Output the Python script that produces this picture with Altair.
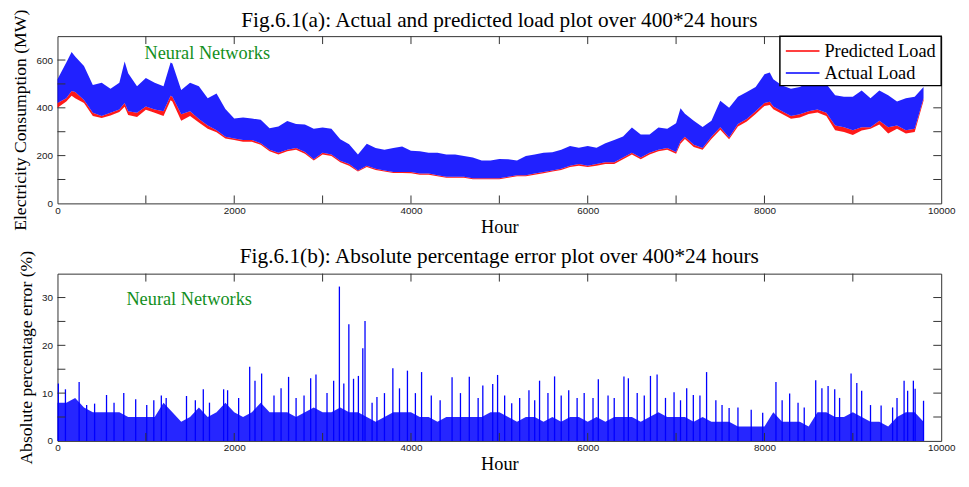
import altair as alt
import pandas as pd

# ---------------- data ----------------
hours = [0, 100, 160, 200, 300, 400, 500, 600, 700, 760, 800, 900,
         1000, 1100, 1200, 1280, 1300, 1400, 1500, 1600, 1700, 1800, 1900,
         2000, 2100, 2200, 2300, 2400, 2500, 2600, 2700, 2800, 2900,
         3000, 3100, 3200, 3300, 3400, 3500, 3600, 3700, 3800, 3900,
         4000, 4100, 4200, 4300, 4400, 4500, 4600, 4700, 4800, 4900,
         5000, 5100, 5200, 5300, 5400, 5500, 5600, 5700, 5800, 5900,
         6000, 6100, 6200, 6300, 6400, 6500, 6600, 6700, 6800, 6900,
         7000, 7050, 7100, 7200, 7300, 7400, 7500, 7600, 7700, 7800, 7900,
         8000, 8060, 8100, 8200, 8300, 8400, 8500, 8600, 8700, 8800, 8900,
         9000, 9100, 9200, 9300, 9400, 9500, 9600, 9700, 9800]

actual_hi = [520, 590, 634, 615, 575, 495, 505, 480, 505, 594, 545, 490,
             525, 505, 490, 590, 585, 475, 505, 490, 440, 460, 395,
             355, 360, 355, 350, 315, 322, 345, 332, 330, 312,
             318, 312, 268, 248, 205, 250, 232, 225, 232, 238,
             220, 218, 212, 212, 205, 205, 198, 192, 180, 180,
             186, 185, 180, 198, 205, 212, 214, 225, 240, 233,
             240, 233, 252, 265, 280, 318, 288, 288, 318, 312,
             335, 398, 375, 346, 320, 346, 430, 400, 446, 466, 487,
             540, 548, 520, 493, 480, 487, 507, 505, 500, 453, 446,
             446, 473, 440, 473, 453, 426, 440, 446, 487]

actual_lo = [420, 440, 470, 466, 433, 379, 366, 379, 393, 420, 386, 379,
             406, 393, 386, 450, 446, 373, 386, 353, 326, 306, 279,
             272, 265, 265, 252, 225, 212, 225, 232, 215, 185,
             212, 205, 178, 165, 138, 158, 145, 138, 131, 131,
             131, 125, 125, 118, 111, 111, 111, 105, 105, 105,
             105, 111, 118, 118, 125, 131, 138, 145, 158, 165,
             158, 165, 172, 172, 192, 212, 192, 212, 225, 232,
             215, 260, 279, 245, 232, 279, 319, 276, 332, 353, 386,
             420, 425, 406, 386, 366, 373, 386, 393, 379, 326, 319,
             306, 319, 319, 346, 319, 326, 306, 312, 440]

pred_lo = [400, 426, 450, 440, 420, 366, 357, 368, 383, 405, 370, 362,
           392, 379, 366, 432, 426, 346, 366, 339, 312, 298, 272,
           265, 258, 258, 245, 218, 205, 218, 225, 208, 180,
           205, 198, 172, 158, 133, 152, 140, 133, 127, 127,
           126, 120, 120, 114, 107, 107, 107, 101, 101, 101,
           101, 107, 114, 114, 120, 126, 133, 140, 152, 158,
           152, 158, 165, 165, 185, 205, 185, 205, 218, 225,
           208, 250, 270, 236, 224, 270, 308, 268, 322, 343, 374,
           408, 412, 394, 374, 354, 360, 374, 380, 366, 306, 299,
           286, 305, 312, 330, 292, 312, 292, 299, 430]

err_hours = list(range(0, 9801, 100))
err_hi = [8, 8, 9, 7, 6, 6, 6, 6, 5, 5,
          5, 5, 8, 6, 4, 5, 7, 5, 6, 8,
          6, 5, 6, 8, 6, 6, 6, 5, 6, 7,
          6, 6, 7, 6, 6, 5, 4, 5, 6, 6,
          6, 5, 5, 4, 5, 5, 5, 5, 5, 6,
          6, 5, 4, 5, 5, 4, 5, 4, 5, 5,
          4, 5, 4, 5, 5, 5, 4, 5, 6, 5,
          5, 5, 4, 5, 4, 4, 4, 3, 3, 3,
          3, 6, 4, 4, 4, 3, 6, 6, 5, 5,
          6, 5, 4, 4, 3, 5, 6, 6, 4]

spike_hours = [10, 90, 245, 330, 420, 555, 640, 750, 885, 1010, 1090, 1175, 1230,
               1460, 1560, 1650, 1720, 1880, 1925, 2050, 2175, 2235, 2310, 2450,
               2530, 2615, 2700, 2790, 2865, 2925, 3050, 3125, 3190, 3240, 3297,
               3350, 3405, 3455, 3480, 3560, 3615, 3700, 3795, 3870, 3960, 4050,
               4120, 4230, 4330, 4465, 4560, 4660, 4760, 4813, 4925, 4980, 5060,
               5140, 5230, 5335, 5400, 5455, 5550, 5625, 5700, 5785, 5880, 5960,
               6060, 6120, 6230, 6300, 6410, 6460, 6560, 6640, 6710, 6785, 6880,
               6977, 7050, 7120, 7195, 7270, 7345, 7450, 7520, 7600, 7700, 7850,
               7980, 8130, 8200, 8285, 8380, 8450, 8580, 8650, 8720, 8795, 8850,
               8980, 9045, 9100, 9200, 9320, 9450, 9500, 9580, 9620, 9685, 9705, 9800]
spike_vals = [12.0, 10.8, 12.3, 7.5, 7.8, 9.6, 8.0, 10.0, 8.7, 7.5, 8.5, 9.5, 9.0,
              9.4, 8.5, 10.8, 8.0, 10.8, 10.6, 9.0, 15.5, 12.6, 14.1, 9.5,
              11.0, 13.4, 9.0, 9.5, 13.1, 13.9, 10.0, 12.6, 32.3, 12.0, 24.4,
              13.0, 13.6, 19.4, 25.1, 8.0, 9.2, 10.0, 15.2, 11.0, 14.7, 10.0,
              14.4, 9.5, 8.5, 13.3, 10.0, 13.4, 9.0, 11.6, 11.9, 13.8, 9.5,
              7.9, 9.0, 10.6, 8.5, 12.6, 10.0, 13.5, 9.5, 10.6, 9.0, 10.0,
              9.0, 12.9, 9.5, 9.0, 13.5, 13.1, 10.0, 9.5, 13.6, 13.9, 9.0,
              10.2, 8.5, 11.0, 9.6, 9.5, 14.4, 8.5, 7.5, 6.9, 7.0, 6.5,
              5.9, 12.3, 8.5, 9.9, 8.0, 7.0, 12.7, 11.0, 11.5, 10.8, 9.0,
              14.1, 12.1, 10.5, 7.5, 7.4, 7.0, 9.0, 12.6, 10.5, 12.6, 10.9, 8.4]

x_ticks = [0, 1000, 2000, 3000, 4000, 5000, 6000, 7000, 8000, 9000, 10000]
load_ticks = [0, 100, 200, 300, 400, 500, 600, 700]
err_ticks = [0, 5, 10, 15, 20, 25, 30, 35]
series_names = ["Predicted Load", "Actual Load"]
series_colors = ["#ff0000", "#0000ff"]
titles = ["Fig.6.1(a): Actual and predicted load plot over 400*24 hours",
          "Fig.6.1(b): Absolute percentage error plot over 400*24 hours"]

# ---------------- styling ----------------
W, H = 893, 169
TICK = 8
BLUE = "#0000ff"
RED = "#ff0000"
GREEN = "#138f1d"
SERIF = "Liberation Serif"
SANS = "Liberation Sans"
XS = alt.Scale(domain=[0, 10000], nice=False)
YS_LOAD = alt.Scale(domain=[0, 700], nice=False)
YS_ERR = alt.Scale(domain=[0, 35], nice=False)
X_AX = alt.Axis(values=x_ticks, title="Hour", format="d", tickCount=10,
                labelOverlap=False, labelFlush=False)
Y1_AX = alt.Axis(values=load_ticks, title="Electricity Consumption (MW)", format="d",
                 tickCount=7, labelOverlap=False, labelFlush=False)
Y2_AX = alt.Axis(values=err_ticks, title="Absolute percentage error (%)", format="d",
                 tickCount=7, labelOverlap=False, labelFlush=False)


def xe(field):
    return alt.X(field, scale=XS, axis=X_AX)


def ye(field, ys, ax):
    return alt.Y(field, scale=ys, axis=ax)


def frame_ticks(yvals, ys, ax):
    xt = pd.DataFrame({"t": x_ticks[1:-1]})
    yt = pd.DataFrame({"v": yvals[1:-1]})
    c = "#333333"
    bottom = alt.Chart(xt).mark_rule(color=c, strokeWidth=1).encode(
        x=xe("t:Q"), y=alt.value(H), y2=alt.value(H - TICK))
    top = alt.Chart(xt).mark_rule(color=c, strokeWidth=1).encode(
        x=xe("t:Q"), y=alt.value(0), y2=alt.value(TICK))
    left = alt.Chart(yt).mark_rule(color=c, strokeWidth=1).encode(
        y=ye("v:Q", ys, ax), x=alt.value(0), x2=alt.value(TICK))
    right = alt.Chart(yt).mark_rule(color=c, strokeWidth=1).encode(
        y=ye("v:Q", ys, ax), x=alt.value(W - TICK), x2=alt.value(W))
    return [bottom, top, left, right]


def panel_title(text, dy):
    return alt.Chart(pd.DataFrame({"t": [text]})).mark_text(
        align="center", baseline="alphabetic", font=SERIF, fontSize=21.5, color="black").encode(
        x=alt.value(W / 2), y=alt.value(dy), text="t:N")


# ---------------- top panel ----------------
load_df = pd.DataFrame({"Hour": hours, "hi": actual_hi, "lo": actual_lo, "plo": pred_lo})

pred_area = alt.Chart(load_df).mark_area(color=RED, opacity=0.9).encode(
    x=xe("Hour:Q"), y=ye("plo:Q", YS_LOAD, Y1_AX), y2="lo:Q")
act_area = alt.Chart(load_df).mark_area(color=BLUE, opacity=0.87).encode(
    x=xe("Hour:Q"), y=ye("lo:Q", YS_LOAD, Y1_AX), y2="hi:Q")
nn_top = alt.Chart(pd.DataFrame({"h": [985], "v": [603], "t": ["Neural Networks"]})).mark_text(
    align="left", baseline="alphabetic", font=SERIF, fontSize=18.5, color=GREEN).encode(
    x=xe("h:Q"), y=ye("v:Q", YS_LOAD, Y1_AX), text="t:N")

# legend box (drawn inside the plot's top-right corner)
leg_df = pd.DataFrame({"name": series_names, "color": series_colors})
leg_box = alt.Chart(pd.DataFrame({"a": [0]})).mark_rect(
    fill="white", stroke="black", strokeWidth=1.5).encode(
    x=alt.value(W - 163), x2=alt.value(W), y=alt.value(0), y2=alt.value(50))
leg_items = []
for i, (nm, col) in enumerate(zip(series_names, series_colors)):
    row_y = 15 + 22.3 * i
    one = leg_df[leg_df["name"] == nm]
    leg_items.append(alt.Chart(one).mark_rule(color=col, strokeWidth=1.6).encode(
        x=alt.value(W - 157), x2=alt.value(W - 123), y=alt.value(row_y)))
    leg_items.append(alt.Chart(one).mark_text(
        align="left", baseline="middle", font=SERIF, fontSize=18.5, color="black").encode(
        x=alt.value(W - 118), y=alt.value(row_y), text="name:N"))

top_chart = alt.layer(pred_area, act_area, nn_top,
                      *frame_ticks(load_ticks, YS_LOAD, Y1_AX),
                      leg_box, *leg_items, panel_title(titles[0], -9)).properties(
    width=W, height=H)

# ---------------- bottom panel ----------------
err_df = pd.DataFrame({"Hour": err_hours, "hi": err_hi})
spk_df = pd.DataFrame({"Hour": spike_hours, "v": spike_vals, "z": [0] * len(spike_vals)})

err_area = alt.Chart(err_df).mark_area(color=BLUE, opacity=0.85).encode(
    x=xe("Hour:Q"), y=ye("hi:Q", YS_ERR, Y2_AX))
err_spikes = alt.Chart(spk_df).mark_rule(color=BLUE, strokeWidth=1.3).encode(
    x=xe("Hour:Q"), y=ye("z:Q", YS_ERR, Y2_AX), y2="v:Q")
nn_bot = alt.Chart(pd.DataFrame({"h": [780], "v": [28.5], "t": ["Neural Networks"]})).mark_text(
    align="left", baseline="alphabetic", font=SERIF, fontSize=18.5, color=GREEN).encode(
    x=xe("h:Q"), y=ye("v:Q", YS_ERR, Y2_AX), text="t:N")

bot_chart = alt.layer(err_area, err_spikes, nn_bot,
                      *frame_ticks(err_ticks, YS_ERR, Y2_AX),
                      panel_title(titles[1], -11)).properties(
    width=W, height=H)

chart = alt.vconcat(top_chart, bot_chart, spacing=9).properties(
    padding={"left": 3, "top": -2, "right": 5, "bottom": -3},
    background="white"
).configure_view(
    stroke="#333333", strokeWidth=1
).configure_axis(
    grid=False, ticks=False, domain=False, labelOverlap=False, labelFlush=False,
    labelFont=SANS, labelFontSize=10, labelColor="#1a1a1a",
    titleFont=SERIF, titleFontWeight="normal", titleColor="black"
).configure_axisX(
    labelPadding=2, titlePadding=2, titleFontSize=18.5
).configure_axisY(
    labelPadding=5, titlePadding=6.5, titleFontSize=17.8
)

chart.save("out.html", embed_options={"renderer": "svg", "actions": False})
